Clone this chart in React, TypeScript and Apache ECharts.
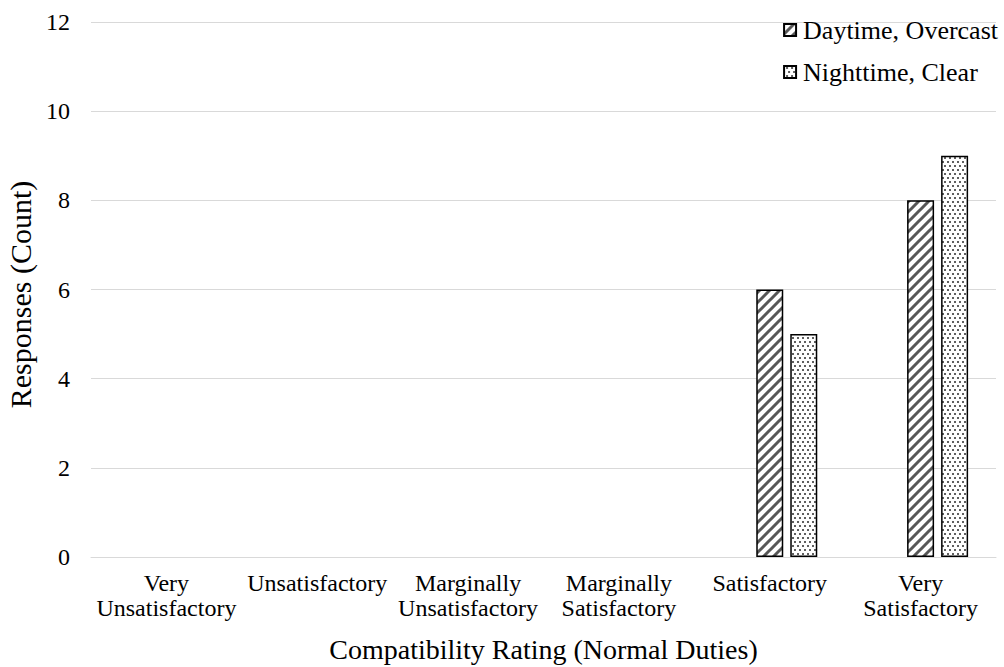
import React, { useEffect, useRef } from "react";
import * as echarts from "echarts";

const categories = [
  "Very\nUnsatisfactory",
  "Unsatisfactory",
  "Marginally\nUnsatisfactory",
  "Marginally\nSatisfactory",
  "Satisfactory",
  "Very\nSatisfactory",
];
const daytimeOvercast = [0, 0, 0, 0, 6, 8];
const nighttimeClear = [0, 0, 0, 0, 5, 9];
const yTicks = { min: 0, max: 12, interval: 2 };
const xAxisTitle = "Compatibility Rating (Normal Duties)";
const yAxisTitle = "Responses (Count)";
const seriesNames = ["Daytime, Overcast", "Nighttime, Clear"];

const FONT = '"Liberation Serif", "Times New Roman", serif';

function hatchPattern(): HTMLCanvasElement {
  const s = 10;
  const c = document.createElement("canvas");
  c.width = s;
  c.height = s;
  const g = c.getContext("2d")!;
  g.fillStyle = "#ffffff";
  g.fillRect(0, 0, s, s);
  g.strokeStyle = "#575757";
  g.lineWidth = 3;
  g.beginPath();
  g.moveTo(-2, s + 2);
  g.lineTo(s + 2, -2);
  g.moveTo(-2, 2);
  g.lineTo(2, -2);
  g.moveTo(s - 2, s + 2);
  g.lineTo(s + 2, s - 2);
  g.stroke();
  return c;
}

function dotPattern(): HTMLCanvasElement {
  const w = 10;
  const h = 8;
  const c = document.createElement("canvas");
  c.width = w;
  c.height = h;
  const g = c.getContext("2d")!;
  g.fillStyle = "#ffffff";
  g.fillRect(0, 0, w, h);
  g.fillStyle = "#606060";
  g.fillRect(2, 1, 2, 2);
  g.fillRect(7, 1, 2, 2);
  g.fillRect(4, 5, 2, 2);
  g.fillRect(9, 5, 1, 2);
  g.fillRect(0, 5, 1, 2);
  return c;
}

const toBar = (arr: number[]) => arr.map((v) => (v === 0 ? null : v));

export default function App() {
  const ref = useRef<HTMLDivElement>(null);
  useEffect(() => {
    if (!ref.current) return;
    const chart = echarts.init(ref.current, undefined, { renderer: "svg" });
    const hatch = { image: hatchPattern(), repeat: "repeat" } as any;
    const dots = { image: dotPattern(), repeat: "repeat" } as any;
    chart.setOption({
      animation: false,
      backgroundColor: "#ffffff",
      textStyle: { fontFamily: FONT, color: "#000" },
      grid: {
        left: 91,
        right: 8,
        top: 22,
        bottom: 110,
        containLabel: false,
        outerBoundsMode: "none",
      },
      legend: {
        data: seriesNames,
        orient: "vertical",
        right: 1,
        top: 12,
        icon: "rect",
        itemWidth: 12,
        itemHeight: 12,
        itemGap: 16,
        textStyle: {
          fontFamily: FONT,
          fontSize: 26,
          color: "#000",
          padding: [0, 0, 0, 2],
        },
      },
      xAxis: {
        type: "category",
        data: categories,
        name: xAxisTitle,
        nameLocation: "middle",
        nameGap: 78,
        nameTextStyle: { fontFamily: FONT, fontSize: 28, color: "#000" },
        axisLine: { show: true, lineStyle: { color: "#d9d9d9", width: 1 } },
        axisTick: { show: false },
        axisLabel: {
          interval: 0,
          margin: 13,
          fontFamily: FONT,
          fontSize: 24,
          lineHeight: 25,
          color: "#000",
        },
      },
      yAxis: {
        type: "value",
        min: yTicks.min,
        max: yTicks.max,
        interval: yTicks.interval,
        name: yAxisTitle,
        nameLocation: "middle",
        nameGap: 50,
        nameTextStyle: {
          fontFamily: FONT,
          fontSize: 30,
          color: "#000",
          padding: [0, 10, 0, 0],
        },
        axisLine: { show: false },
        axisTick: { show: false },
        axisLabel: { margin: 21, fontFamily: FONT, fontSize: 24, color: "#000" },
        splitLine: { lineStyle: { color: "#d9d9d9", width: 1 } },
      },
      series: [
        {
          name: "_hidden",
          type: "bar",
          data: categories.map(() => null),
          barWidth: 27,
          barGap: "26%",
        },
        {
          name: seriesNames[0],
          type: "bar",
          data: toBar(daytimeOvercast),
          barWidth: 27,
          barGap: "26%",
          itemStyle: { color: hatch, borderColor: "#000", borderWidth: 1.5 },
        },
        {
          name: seriesNames[1],
          type: "bar",
          data: toBar(nighttimeClear),
          barWidth: 27,
          barGap: "26%",
          itemStyle: { color: dots, borderColor: "#000", borderWidth: 1.5 },
        },
      ],
    });
    return () => chart.dispose();
  }, []);
  return (
    <div
      ref={ref}
      style={{ position: "fixed", left: 0, top: 0, width: 1004, height: 667 }}
    />
  );
}
